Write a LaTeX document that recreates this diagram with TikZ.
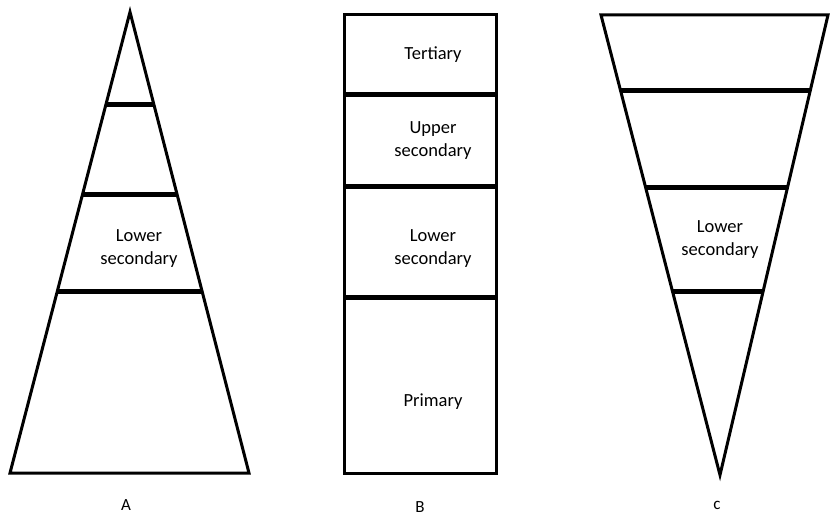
\documentclass[tikz,border=0pt]{standalone}
\usepackage{fontspec}
\setmainfont{Carlito}
\usetikzlibrary{calc}
\tikzstyle{outline} = [line width=3pt, line join=miter]
\tikzstyle{divider} = [line width=5pt]
\tikzstyle{level} = [align=center, font=\fontsize{18.5}{23}\selectfont]
\tikzstyle{caption} = [font=\fontsize{17}{20}\selectfont]

\begin{document}
\begin{tikzpicture}[x=1pt,y=-1pt]
\useasboundingbox (0,0) rectangle (830,516);

% A: pyramid
\coordinate (apexA) at (130,12);
\coordinate (blA) at (10,473);
\coordinate (brA) at (249,473);
\draw[outline] (apexA) -- (blA) -- (brA) -- cycle;
\foreach \t in {0.2,0.395,0.607}
  \draw[divider] ($(apexA)!\t!(blA)$) -- ($(apexA)!\t!(brA)$);
\node (lowA) [level] at (139,249) {Lower\\secondary};
\node (capA) [caption] at (126,505) {A};

% B: column
\coordinate (tlB) at (344,15);
\coordinate (brB) at (496,473);
\draw[outline] (tlB) rectangle (brB);
\foreach \y in {95,186,297}
  \draw[divider] (344,\y) -- (496,\y);
\node (terB) [level] at (433,55) {Tertiary};
\node (uppB) [level] at (433,141) {Upper\\secondary};
\node (lowB) [level] at (433,249) {Lower\\secondary};
\node (priB) [level] at (433,402) {Primary};
\node (capB) [caption] at (420,507) {B};

% C: inverted pyramid
\coordinate (tlC) at (601,15);
\coordinate (trC) at (828,15);
\coordinate (apexC) at (720,475);
\draw[outline] (tlC) -- (trC) -- (apexC) -- cycle;
\foreach \t in {0.165,0.376,0.602}
  \draw[divider] ($(tlC)!\t!(apexC)$) -- ($(trC)!\t!(apexC)$);
\node (lowC) [level] at (720,240) {Lower\\secondary};
\node (capC) [caption] at (717,505) {c};

\end{tikzpicture}
\end{document}
